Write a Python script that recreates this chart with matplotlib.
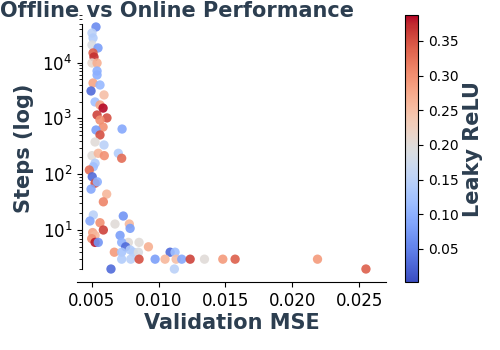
import numpy as np
import matplotlib
matplotlib.use("Agg")
import matplotlib.pyplot as plt

# validation MSE, steps and leaky relu slope for each run
mse = [0.00532, 0.00502, 0.00510, 0.00502, 0.00547, 0.00510, 0.00517, 0.00502, 0.00540,
       0.00540, 0.00540, 0.00510, 0.00562, 0.00495, 0.00592, 0.00525, 0.00562, 0.00585,
       0.00540, 0.00614, 0.00562, 0.00585, 0.00727, 0.00532, 0.00562, 0.00525, 0.00592,
       0.00502, 0.00549, 0.00594, 0.00699, 0.00724, 0.00525, 0.00512, 0.00482, 0.00504,
       0.00525, 0.00542, 0.00495, 0.00612, 0.00587, 0.00512, 0.00736, 0.00487, 0.00562,
       0.00674, 0.00781, 0.00787, 0.00587, 0.00507, 0.00525, 0.00500, 0.00712, 0.00774,
       0.00854, 0.00525, 0.00549, 0.00724, 0.00754, 0.00924, 0.00787, 0.00669, 0.00724,
       0.00811, 0.00849, 0.01086, 0.01123, 0.00724, 0.00792, 0.00854, 0.00974, 0.01048,
       0.01131, 0.01173, 0.01236, 0.01343, 0.01480, 0.01572, 0.02188, 0.00644, 0.01118,
       0.02550]
steps = [43500, 33900, 27600, 20700, 18300, 14900, 12600, 9840, 9840,
         7070, 6000, 4310, 3970, 3100, 2630, 1970, 1740, 1530,
         1150, 1020, 935, 700, 645, 620, 505, 378, 334,
         215, 237, 215, 237, 193, 157, 136, 119, 90,
         69, 73, 54, 44, 32, 18.6, 17.8, 14.5, 13.5,
         12.8, 12.8, 10.7, 10, 9, 8, 7, 8, 6,
         6, 6, 6, 6, 5, 5, 4.4, 4, 4,
         4, 4, 4, 4, 3, 3, 3, 3, 3,
         3, 3, 3, 3, 3, 3, 3, 2, 2,
         2]
leaky = [0.06, 0.15, 0.14, 0.19, 0.08, 0.34, 0.37, 0.21, 0.27,
         0.10, 0.10, 0.28, 0.11, 0.03, 0.25, 0.12, 0.28, 0.385,
         0.36, 0.35, 0.30, 0.30, 0.09, 0.08, 0.35, 0.20, 0.15,
         0.20, 0.26, 0.30, 0.14, 0.33, 0.14, 0.12, 0.33, 0.03,
         0.35, 0.10, 0.09, 0.26, 0.31, 0.15, 0.07, 0.09, 0.30,
         0.20, 0.26, 0.08, 0.36, 0.28, 0.26, 0.30, 0.08, 0.20,
         0.20, 0.38, 0.07, 0.10, 0.03, 0.27, 0.14, 0.29, 0.13,
         0.14, 0.19, 0.03, 0.12, 0.14, 0.15, 0.35, 0.08, 0.26,
         0.25, 0.09, 0.36, 0.20, 0.29, 0.34, 0.29, 0.03, 0.15,
         0.34]

dark = '#2c3e50'

fig = plt.figure(figsize=(5, 3.5), dpi=100)
ax = fig.add_axes([77/500, 1-282/350, 309/500, 267/350])
cax = fig.add_axes([405/500, 1-282/350, 13/500, 267/350])

sc = ax.scatter(mse, steps, c=leaky, cmap='coolwarm', vmin=0.0024, vmax=0.3875,
                s=45, alpha=0.9, edgecolors='none', clip_on=False)
ax.set_yscale('log')
ax.set_xlim(0.0039, 0.0270)
ax.set_ylim(1.17, 71300)
ax.set_xticks([0.005, 0.010, 0.015, 0.020, 0.025])

# spines
ax.spines['top'].set_visible(False)
ax.spines['right'].set_visible(False)
ax.spines['left'].set_position(('outward', -3.6))
ax.spines['left'].set_bounds(2, 50000)
ax.tick_params(labelsize=12)

cb = fig.colorbar(sc, cax=cax)
cb.set_ticks([0.05, 0.10, 0.15, 0.20, 0.25, 0.30, 0.35])
cb.ax.tick_params(labelsize=10)
cb.solids.set_alpha(1)

fig.text(177/500, 1-11/350, 'Offline vs Online Performance', fontsize=15,
         fontweight='bold', color=dark, ha='center', va='center')
fig.text(231.5/500, 1-323/350, 'Validation MSE', fontsize=15,
         fontweight='bold', color=dark, ha='center', va='center')
fig.text(24/500, 1-148.5/350, 'Steps (log)', fontsize=15, rotation=90,
         fontweight='bold', color=dark, ha='center', va='center')
fig.text(473/500, 1-149/350, 'Leaky ReLU', fontsize=15, rotation=90,
         fontweight='bold', color=dark, ha='center', va='center')

plt.savefig('out.png', dpi=100)
